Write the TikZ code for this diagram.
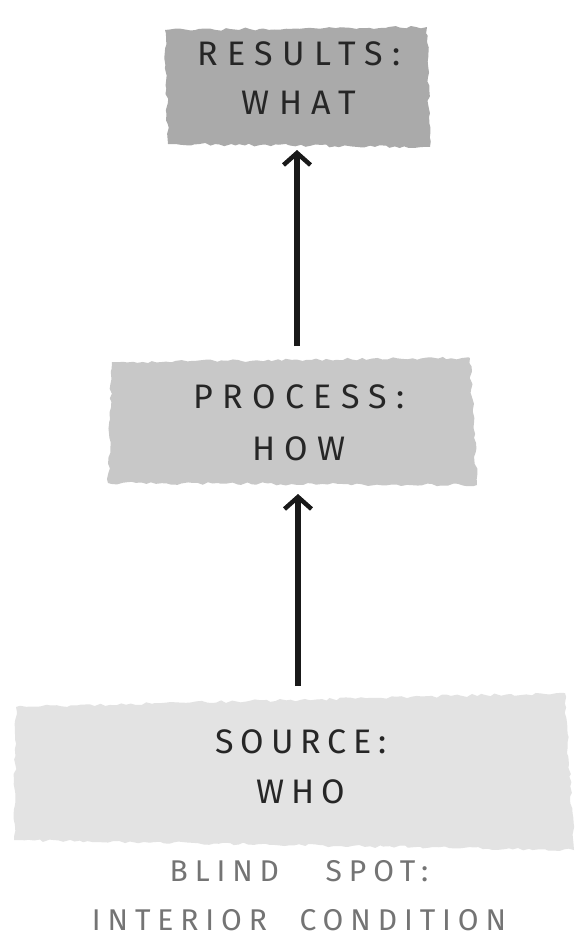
\documentclass[tikz,border=0pt]{standalone}
\usepackage{fontspec}
\setmainfont{Fira Sans}
\newfontfamily\lblfont[LetterSpace=28]{Fira Sans}
\newfontfamily\srcfont[LetterSpace=20]{Fira Sans}
\newfontfamily\notefont[LetterSpace=23,WordSpace=2.2]{Fira Sans}
\usetikzlibrary{arrows.meta,decorations.pathmorphing}
\definecolor{boxA}{HTML}{AAAAAA}
\definecolor{boxB}{HTML}{C8C8C8}
\definecolor{boxC}{HTML}{E3E3E3}
\definecolor{note}{HTML}{747474}
\begin{document}
\begin{tikzpicture}[x=1pt,y=-1pt,
  sketch/.style={decorate,decoration={random steps,segment length=5pt,amplitude=1.5pt}},
  lbl/.style={font=\lblfont\fontsize{34}{49}\selectfont, align=center, text=black!85},
  flow/.style={line width=5.5pt, -{Straight Barb[length=12pt,width=27pt,line width=4.5pt]}, black!90}]
\useasboundingbox (0,0) rectangle (583,940);
\fill[white] (0,0) rectangle (583,940);
% boxes
\fill[boxA, sketch] (165,30) -- (427,27) -- (430,147) -- (168,144) -- cycle;
\fill[boxB, sketch] (112,362) -- (470,358) -- (477,485) -- (108,483) -- cycle;
\fill[boxC, sketch] (16,707) -- (565,693) -- (574,850) -- (14,840) -- cycle;
% labels
\node[lbl] (res) at (299,78) {RESULTS:\\WHAT};
\node[lbl, font=\lblfont\fontsize{34}{52}\selectfont] (pro) at (299,423) {PROCESS:\\HOW};
\node[lbl, font=\srcfont\fontsize{34}{50}\selectfont] (src) at (301,767) {SOURCE:\\WHO};
\node[lbl, text=note, font=\notefont\fontsize{30}{49}\selectfont] (blind) at (299,896) {BLIND\hspace{14pt} SPOT:\\INTERIOR CONDITION};
% connectors
\coordinate (a1s) at (297,346);
\coordinate (a1e) at (297,150);
\coordinate (a2s) at (298,686);
\coordinate (a2e) at (298,494);
\draw[flow] (a1s) -- (a1e);
\draw[flow] (a2s) -- (a2e);
\end{tikzpicture}
\end{document}
